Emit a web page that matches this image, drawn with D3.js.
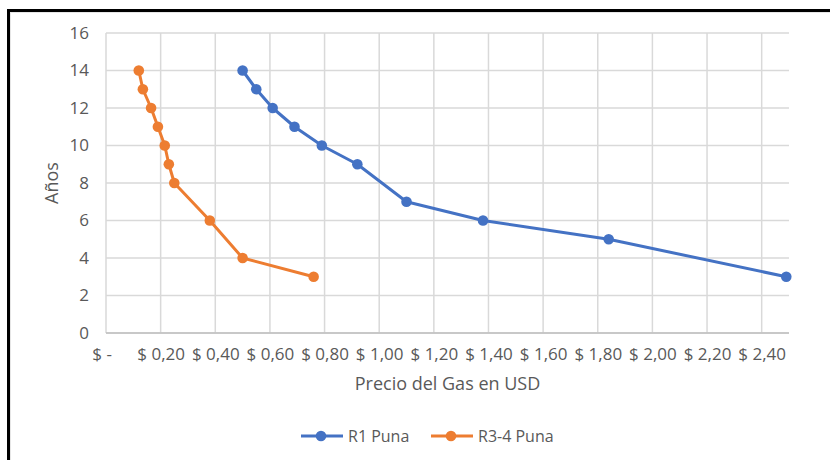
<!DOCTYPE html>
<html>
<head>
<meta charset="utf-8">
<script src="https://cdn.jsdelivr.net/npm/d3@7/dist/d3.min.js"></script>
<style>
  html, body { margin: 0; padding: 0; background: #ffffff; }
  svg { display: block; font-family: "Open Sans", "Noto Sans", sans-serif; }
</style>
</head>
<body>
<svg id="chart" width="830" height="460"></svg>
<script>
// Gas price (USD) against years, for two Puna regions
const r1Price   = [0.50, 0.55, 0.61, 0.69, 0.79, 0.92, 1.10, 1.38, 1.84, 2.49];
const r1Years   = [14, 13, 12, 11, 10, 9, 7, 6, 5, 3];
const r34Price  = [0.12, 0.135, 0.165, 0.19, 0.215, 0.23, 0.25, 0.38, 0.50, 0.76];
const r34Years  = [14, 13, 12, 11, 10, 9, 8, 6, 4, 3];

const seriesNames = ["R1 Puna", "R3-4 Puna"];
const seriesColors = ["#4472C4", "#ED7D31"];

const xTickValues = [0, 0.2, 0.4, 0.6, 0.8, 1.0, 1.2, 1.4, 1.6, 1.8, 2.0, 2.2, 2.4];
const yTickValues = [0, 2, 4, 6, 8, 10, 12, 14, 16];
const xDomain = [0, 2.5];
const yDomain = [0, 16];

const xTitle = "Precio del Gas en USD";
const yTitle = "Años";

const svg = d3.select("#chart");
const W = 830, H = 460;
const plot = { left: 106, right: 789, top: 33, bottom: 333 };

// Frame along the top and left edges
svg.append("line").attr("x1", 10).attr("x2", W).attr("y1", 12.5).attr("y2", 12.5)
  .attr("stroke", "#e6e6e6").attr("stroke-width", 1);
svg.append("line").attr("x1", 10.5).attr("x2", 10.5).attr("y1", 12).attr("y2", H)
  .attr("stroke", "#e6e6e6").attr("stroke-width", 1);
svg.append("line").attr("x1", 7).attr("x2", W).attr("y1", 10.5).attr("y2", 10.5)
  .attr("stroke", "#000").attr("stroke-width", 3);
svg.append("line").attr("x1", 8.5).attr("x2", 8.5).attr("y1", 9).attr("y2", H)
  .attr("stroke", "#000").attr("stroke-width", 3);

const x = d3.scaleLinear().domain(xDomain).range([plot.left, plot.right]);
const y = d3.scaleLinear().domain(yDomain).range([plot.bottom, plot.top]);

// Gridlines
const grid = svg.append("g").attr("stroke", "#d9d9d9").attr("stroke-width", 1.5);
grid.selectAll("line.v").data(xTickValues).join("line")
  .attr("x1", d => x(d)).attr("x2", d => x(d))
  .attr("y1", plot.top).attr("y2", plot.bottom);
grid.selectAll("line.h").data(yTickValues).join("line")
  .attr("x1", plot.left).attr("x2", plot.right)
  .attr("y1", d => y(d)).attr("y2", d => y(d));

// Horizontal axis line
svg.append("line").attr("x1", plot.left).attr("x2", plot.right)
  .attr("y1", y(0)).attr("y2", y(0))
  .attr("stroke", "#bfbfbf").attr("stroke-width", 1.5);

const fmtPrice = v => v === 0 ? "$ -\u00a0\u00a0" : "$ " + v.toFixed(2).replace(".", ",");

const xAxis = d3.axisBottom(x).tickValues(xTickValues).tickFormat(fmtPrice)
  .tickSize(0).tickPadding(15);
const gx = svg.append("g").attr("transform", `translate(0,${plot.bottom})`).call(xAxis);
gx.select(".domain").remove();
gx.selectAll("text").attr("fill", "#595959").style("font-size", "17px")
  .style("font-family", "'Open Sans', sans-serif");

const yAxis = d3.axisLeft(y).tickValues(yTickValues).tickFormat(d3.format("d"))
  .tickSize(0).tickPadding(17);
const gy = svg.append("g").attr("transform", `translate(${plot.left},0)`).call(yAxis);
gy.select(".domain").remove();
gy.selectAll("text").attr("fill", "#595959").style("font-size", "17px")
  .style("font-family", "'Open Sans', sans-serif");

// Axis titles
svg.append("text").attr("x", (plot.left + plot.right) / 2).attr("y", 383)
  .attr("text-anchor", "middle").attr("dominant-baseline", "central")
  .attr("fill", "#595959").style("font-size", "18px").text(xTitle);
svg.append("text")
  .attr("transform", `translate(51,${(plot.top + plot.bottom) / 2}) rotate(-90)`)
  .attr("text-anchor", "middle").attr("dominant-baseline", "central")
  .attr("fill", "#595959").style("font-size", "18px").text(yTitle);

// Series
const series = [
  { name: seriesNames[0], color: seriesColors[0], pts: r1Price.map((p, i) => [p, r1Years[i]]) },
  { name: seriesNames[1], color: seriesColors[1], pts: r34Price.map((p, i) => [p, r34Years[i]]) }
];
const line = d3.line().x(d => x(d[0])).y(d => y(d[1]));

series.forEach(s => {
  svg.append("path").datum(s.pts).attr("d", line)
    .attr("fill", "none").attr("stroke", s.color).attr("stroke-width", 3)
    .attr("stroke-linejoin", "round");
  svg.append("g").selectAll("circle").data(s.pts).join("circle")
    .attr("cx", d => x(d[0])).attr("cy", d => y(d[1])).attr("r", 5.3)
    .attr("fill", s.color);
});

// Legend
const legendY = 436;
const legendItems = [{ x0: 301 }, { x0: 431 }];
series.forEach((s, i) => {
  const g = svg.append("g").attr("transform", `translate(${legendItems[i].x0},${legendY})`);
  g.append("line").attr("x1", 0).attr("x2", 42).attr("y1", 0).attr("y2", 0)
    .attr("stroke", s.color).attr("stroke-width", 3);
  g.append("circle").attr("cx", 20).attr("cy", 0).attr("r", 5.3).attr("fill", s.color);
  g.append("text").attr("x", 47).attr("y", 0).attr("dominant-baseline", "central")
    .attr("fill", "#595959").style("font-size", "16px").text(s.name);
});
</script>
</body>
</html>
